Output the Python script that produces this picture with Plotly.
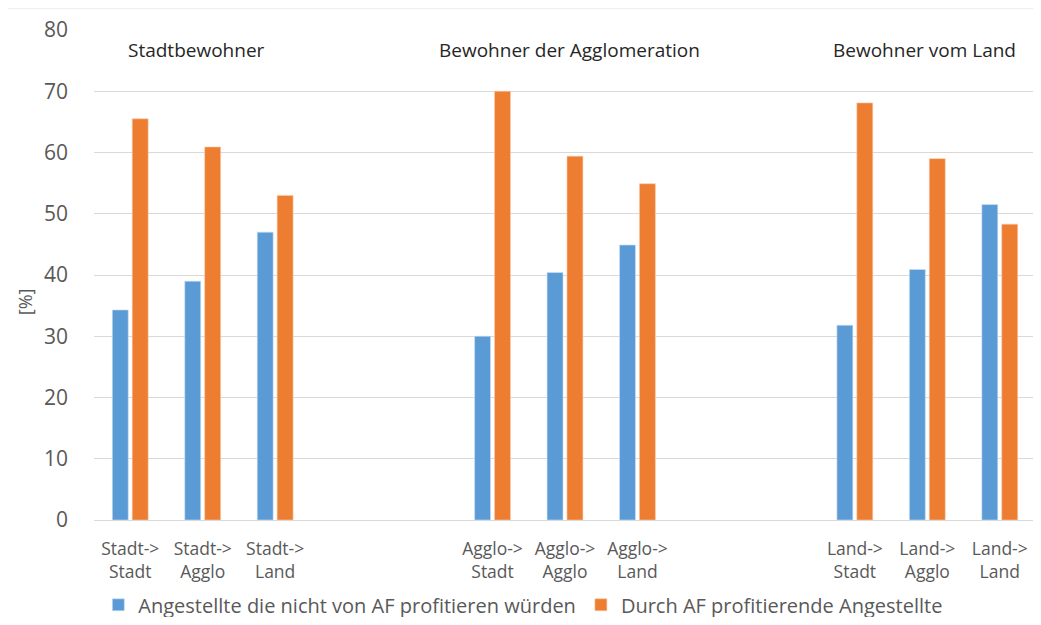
import plotly.graph_objects as go

# --- data ---
KATEGORIEN = [
    "Stadt-><br>Stadt", "Stadt-><br>Agglo", "Stadt-><br>Land", " ", "  ",
    "Agglo-><br>Stadt", "Agglo-><br>Agglo", "Agglo-><br>Land", "   ", "    ",
    "Land-><br>Stadt", "Land-><br>Agglo", "Land-><br>Land",
]
NICHT_PROFITIEREND = [34.3, 39.0, 47.0, None, None, 30.0, 40.4, 44.9, None, None, 31.8, 40.9, 51.5]
PROFITIEREND = [65.5, 60.9, 53.0, None, None, 70.0, 59.4, 54.9, None, None, 68.1, 59.0, 48.3]
SERIEN = ["Angestellte die nicht von AF profitieren würden", "Durch AF profitierende Angestellte"]
GRUPPEN = ["Stadtbewohner", "Bewohner der Agglomeration", "Bewohner vom Land"]
Y_TICKS = [0, 10, 20, 30, 40, 50, 60, 70, 80]

BLAU = "#5B9BD5"
ORANGE = "#ED7D31"
GRAU = "#595959"
RASTER = "#D9D9D9"
SCHRIFT = "Open Sans"

fig = go.Figure()
fig.add_trace(go.Bar(x=KATEGORIEN, y=NICHT_PROFITIEREND, name=SERIEN[0],
                     marker=dict(color=BLAU, line=dict(color="#CFE1F3", width=0.6))))
fig.add_trace(go.Bar(x=KATEGORIEN, y=PROFITIEREND, name=SERIEN[1],
                     marker=dict(color=ORANGE, line=dict(color="#F8CBAD", width=0.6))))

# Gruppentitel oben im Plot
for gruppe, xpos in zip(GRUPPEN, [0.109, 0.505, 0.882]):
    fig.add_annotation(text=gruppe, x=xpos, y=0.959, xref="paper", yref="paper",
                       xanchor="center", yanchor="middle",
                       showarrow=False, font=dict(family=SCHRIFT, size=19, color="#262626"))

# Achsentitel als gedrehte Beschriftung
fig.add_annotation(text="[%]", x=-0.073, y=0.445, xref="paper", yref="paper", textangle=-90,
                   xanchor="center", yanchor="middle",
                   showarrow=False, font=dict(family=SCHRIFT, size=18, color=GRAU))

# Rahmen (nur links und oben sichtbar)
fig.add_shape(type="line", xref="paper", yref="paper", x0=-0.0924, x1=-0.0924, y0=-0.22, y1=1.045,
              line=dict(color=RASTER, width=1))
fig.add_shape(type="line", xref="paper", yref="paper", x0=-0.0924, x1=1.01, y0=1.045, y1=1.045,
              line=dict(color=RASTER, width=1))

# Seite hat 8px Rand -> Figur etwas kleiner als das Fenster
fig.update_layout(
    width=1033, height=609,
    margin=dict(l=86, r=5, t=22, b=97, autoexpand=False),
    plot_bgcolor="white", paper_bgcolor="white",
    barmode="group", bargap=0.45, bargroupgap=0.2,
    font=dict(family=SCHRIFT, color=GRAU),
    legend=dict(orientation="h", x=0.0046, y=-0.173, xanchor="left", yanchor="middle",
                font=dict(size=20, color=GRAU), itemclick=False),
    xaxis=dict(type="category", tickfont=dict(size=17.5, color=GRAU), showgrid=False, automargin=False,
               showline=True, linecolor=RASTER, linewidth=1, ticks="", ticklabelstandoff=13),
    yaxis=dict(range=[0, 80], tickvals=Y_TICKS, tickfont=dict(size=21, color=GRAU), automargin=False,
               showgrid=True, gridcolor=RASTER, gridwidth=1, zeroline=False,
               ticklabelstandoff=25),
)

fig.write_html("out.html")
